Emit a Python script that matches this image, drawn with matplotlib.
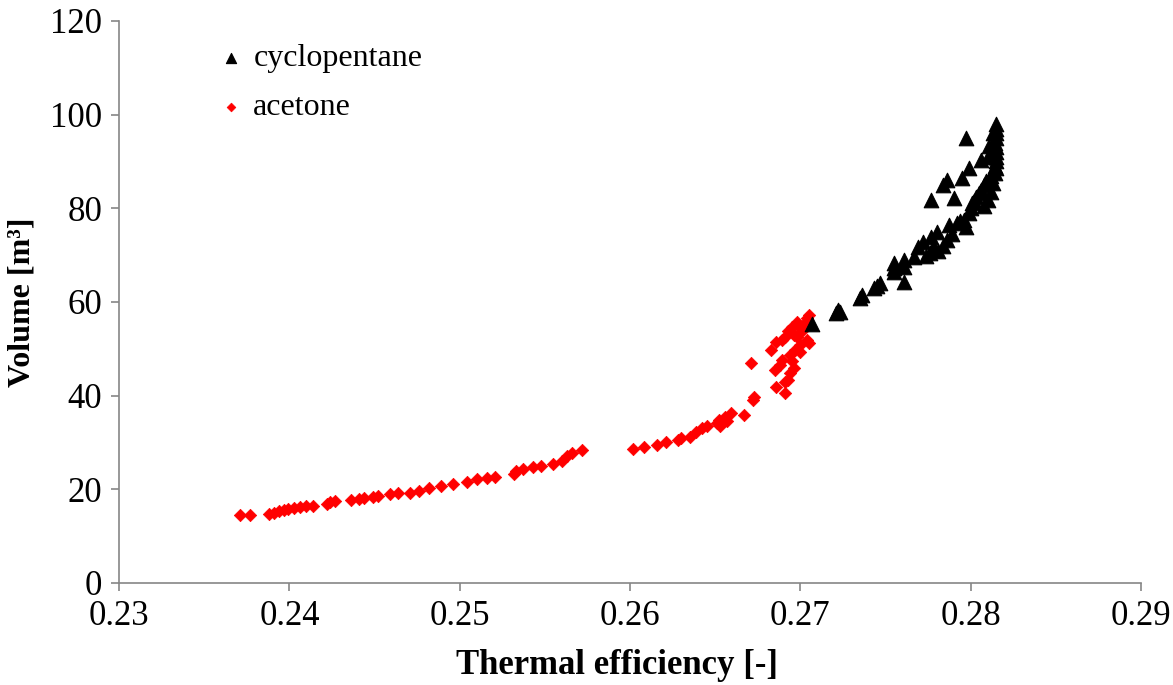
import matplotlib.pyplot as plt

plt.rcParams['font.family'] = ['Liberation Serif', 'DejaVu Serif']

# acetone (red diamonds)
acetone_eff = [
    0.2371, 0.2377, 0.2388, 0.2391, 0.2394, 0.2397, 0.2399, 0.2403, 0.2406, 0.2410,
    0.2414, 0.2422, 0.2424, 0.2427, 0.2436, 0.2441, 0.2444, 0.2449, 0.2452, 0.2459,
    0.2464, 0.2471, 0.2476, 0.2482, 0.2489, 0.2496, 0.2504, 0.2510, 0.2516, 0.2521,
    0.2532, 0.2533, 0.2537, 0.2543, 0.2548, 0.2555, 0.2560, 0.2563, 0.2566, 0.2572,
    0.2602, 0.2608, 0.2616, 0.2621, 0.2628, 0.2630, 0.2635, 0.2639, 0.2642, 0.2645,
    0.2651, 0.2652, 0.2656, 0.2659, 0.2653, 0.2657, 0.2667, 0.2672, 0.2673, 0.2671,
    0.2686, 0.2691, 0.2691, 0.2693, 0.2694, 0.2696, 0.2695, 0.2685, 0.2688, 0.2689,
    0.2694, 0.2683, 0.2697, 0.2700, 0.2700, 0.2686, 0.2689, 0.2691, 0.2698, 0.2704,
    0.2705, 0.2693, 0.2701, 0.2695, 0.2700, 0.2698, 0.2705, 0.2704, 0.2702, 0.2696,
]
acetone_vol = [
    14.6, 14.6, 14.8, 15.0, 15.3, 15.6, 15.8, 16.0, 16.2, 16.4,
    16.5, 16.9, 17.2, 17.5, 17.7, 17.9, 18.2, 18.4, 18.6, 18.9,
    19.1, 19.3, 19.7, 20.2, 20.7, 21.1, 21.5, 22.1, 22.4, 22.7,
    23.3, 24.0, 24.4, 24.8, 25.0, 25.4, 26.1, 27.0, 27.8, 28.3,
    28.6, 29.1, 29.5, 30.0, 30.5, 30.9, 31.2, 32.2, 33.0, 33.5,
    34.1, 34.8, 35.5, 36.3, 33.6, 34.5, 35.9, 39.1, 39.7, 46.9,
    41.9, 40.5, 43.0, 43.3, 44.8, 45.8, 47.3, 45.5, 46.6, 47.6,
    48.7, 49.8, 49.8, 49.4, 50.8, 51.5, 51.9, 52.6, 52.6, 51.9,
    51.2, 53.7, 53.7, 54.7, 54.4, 55.8, 57.2, 56.5, 55.2, 53.0,
]

# cyclopentane (black triangles)
cyclo_eff = [
    0.2707, 0.2721, 0.2722, 0.2723, 0.2735, 0.2736, 0.2743, 0.2745, 0.2747, 0.2755,
    0.2755, 0.2755, 0.2761, 0.2761, 0.2761, 0.2767, 0.2769, 0.2772, 0.2774, 0.2776,
    0.2777, 0.2778, 0.2779, 0.2780, 0.2781, 0.2784, 0.2786, 0.2787, 0.2789, 0.2792,
    0.2794, 0.2796, 0.2797, 0.2799, 0.2800, 0.2802, 0.2803, 0.2801, 0.2805, 0.2806,
    0.2808, 0.2809, 0.2810, 0.2811, 0.2812, 0.2813, 0.2814, 0.2815, 0.2815, 0.2815,
    0.2815, 0.2814, 0.2815, 0.2815, 0.2815, 0.2815, 0.2813, 0.2811, 0.2810, 0.2806,
    0.2799, 0.2795, 0.2786, 0.2784, 0.2777, 0.2790, 0.2797, 0.2812, 0.2808, 0.2813,
    0.2814, 0.2815,
]
cyclo_vol = [
    55.2, 57.6, 58.3, 57.9, 60.8, 61.5, 62.9, 63.4, 64.0, 66.5,
    67.2, 68.3, 64.3, 67.5, 69.0, 69.7, 71.8, 72.9, 69.8, 70.5,
    73.9, 71.5, 71.1, 75.0, 70.8, 72.0, 73.2, 76.4, 74.5, 76.8,
    77.2, 77.5, 76.0, 79.0, 80.0, 81.5, 82.5, 81.1, 83.2, 84.0,
    85.0, 85.8, 81.8, 86.1, 87.0, 88.0, 89.0, 90.0, 91.0, 92.0,
    93.0, 93.9, 95.0, 96.0, 97.0, 98.0, 96.0, 93.2, 91.0, 90.3,
    88.5, 86.4, 86.1, 85.0, 81.8, 82.1, 95.0, 83.5, 80.5, 85.5,
    87.5, 88.5,
]

fig = plt.figure(figsize=(11.73, 6.85), dpi=100)
ax = fig.add_axes([0.1015, 0.149, 0.8712, 0.8204])

ax.scatter(cyclo_eff, cyclo_vol, marker='^', s=110, color='black',
           edgecolors='black', linewidths=0.8, label='cyclopentane', zorder=3)
ax.scatter(acetone_eff, acetone_vol, marker='D', s=40, color='red',
           edgecolors='red', linewidths=0.5, label='acetone', zorder=2)

ax.set_xlim(0.23, 0.29)
ax.set_ylim(0, 120)
ax.set_xticks([0.23, 0.24, 0.25, 0.26, 0.27, 0.28, 0.29])
ax.set_xticklabels(['0.23', '0.24', '0.25', '0.26', '0.27', '0.28', '0.29'])
ax.set_yticks([0, 20, 40, 60, 80, 100, 120])

for side in ['top', 'right']:
    ax.spines[side].set_visible(False)
for side in ['left', 'bottom']:
    ax.spines[side].set_color('#868686')
    ax.spines[side].set_linewidth(1.2)
ax.tick_params(direction='out', length=6, width=1.2, color='#868686',
               labelsize=25, pad=6)

ax.set_xlabel('Thermal efficiency [-]', fontsize=25, fontweight='bold', labelpad=12)
ax.xaxis.set_label_coords(0.487, -0.118)
ax.set_ylabel('Volume [m³]', fontsize=23, fontweight='bold', labelpad=10)

ax.legend(loc='upper left', bbox_to_anchor=(0.072, 1.01), frameon=False,
          fontsize=23, markerscale=0.7, handlelength=0.6, handletextpad=0.4,
          labelspacing=0.6)

fig.savefig('out.png', dpi=100)
